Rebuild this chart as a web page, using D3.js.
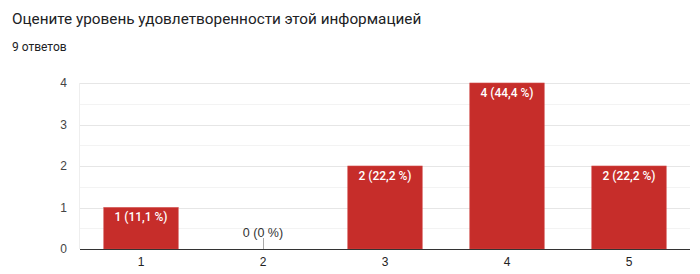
<!DOCTYPE html>
<html>
<head>
<meta charset="utf-8">
<script src="https://cdn.jsdelivr.net/npm/d3@7"></script>
<style>
  body { margin: 0; background: #fff; }
  svg { display: block; }
</style>
</head>
<body>
<svg id="chart" width="700" height="274"></svg>
<script>
var categories = ["1", "2", "3", "4", "5"];
var counts = [1, 0, 2, 4, 2];
var labels = ["1 (11,1 %)", "0 (0 %)", "2 (22,2 %)", "4 (44,4 %)", "2 (22,2 %)"];
var yTicks = [0, 1, 2, 3, 4];
var title = "Оцените уровень удовлетворенности этой информацией";
var subtitle = "9 ответов";

var width = 700,
    height = 274,
    margin = {top: 83, right: 10, bottom: 25, left: 80};

var svg = d3.select("#chart");

svg.append("text")
    .attr("x", 12)
    .attr("y", 24)
    .attr("font-family", "Roboto, 'Noto Sans', sans-serif")
    .attr("font-size", 15.3)
    .attr("fill", "#202124")
    .text(title);

svg.append("text")
    .attr("x", 12)
    .attr("y", 51)
    .attr("font-family", "Roboto, 'Noto Sans', sans-serif")
    .attr("font-size", 12)
    .attr("fill", "#202124")
    .text(subtitle);

var x = d3.scaleBand()
    .domain(categories)
    .range([margin.left, width - margin.right])
    .paddingInner(0.39)
    .paddingOuter(0.195);

var y = d3.scaleLinear()
    .domain([0, 4])
    .range([height - margin.bottom, margin.top]);

var font = "'Liberation Sans', Arial, sans-serif";

// minor gridlines
svg.append("g")
    .selectAll("line")
    .data(d3.range(0.5, 4, 1))
    .join("line")
    .attr("x1", margin.left)
    .attr("x2", width - margin.right)
    .attr("y1", d => Math.round(y(d)) + 0.5)
    .attr("y2", d => Math.round(y(d)) + 0.5)
    .attr("stroke", "#f3f3f3");

// major gridlines
svg.append("g")
    .selectAll("line")
    .data(yTicks.slice(1))
    .join("line")
    .attr("x1", margin.left)
    .attr("x2", width - margin.right)
    .attr("y1", d => Math.round(y(d)) + 0.5)
    .attr("y2", d => Math.round(y(d)) + 0.5)
    .attr("stroke", "#e6e6e6");

// left vertical line
svg.append("line")
    .attr("x1", margin.left - 0.5)
    .attr("x2", margin.left - 0.5)
    .attr("y1", y(4))
    .attr("y2", y(0))
    .attr("stroke", "#eeeeee");

// y axis
var yAxis = svg.append("g")
    .attr("transform", "translate(" + margin.left + ",0)")
    .call(d3.axisLeft(y).tickValues(yTicks).tickSize(0).tickPadding(13).tickFormat(d3.format("d")));
yAxis.select(".domain").remove();
yAxis.selectAll("text")
    .attr("font-family", font)
    .attr("font-size", 12)
    .attr("fill", "#444");

// bars
svg.append("g")
    .selectAll("rect")
    .data(counts)
    .join("rect")
    .attr("x", (d, i) => x(categories[i]))
    .attr("y", d => y(d))
    .attr("width", x.bandwidth())
    .attr("height", d => y(0) - y(d))
    .attr("fill", "#c62d2a")
    .attr("stroke", "#d04a47")
    .attr("stroke-width", 0.6);

// zero bar marker
svg.append("g")
    .selectAll("line")
    .data(counts.map((d, i) => ({v: d, c: categories[i]})).filter(d => d.v === 0))
    .join("line")
    .attr("x1", d => Math.round(x(d.c) + x.bandwidth() / 2) + 0.5)
    .attr("x2", d => Math.round(x(d.c) + x.bandwidth() / 2) + 0.5)
    .attr("y1", y(0) - 11)
    .attr("y2", y(0))
    .attr("stroke", "#aaaaaa");

// bar labels
svg.append("g")
    .selectAll("text")
    .data(counts)
    .join("text")
    .attr("x", (d, i) => x(categories[i]) + x.bandwidth() / 2)
    .attr("y", d => d > 0 ? y(d) + 13.5 : y(0) - 12.5)
    .attr("text-anchor", "middle")
    .attr("font-family", d => d > 0 ? "Roboto, sans-serif" : font)
    .attr("font-size", d => d > 0 ? 12 : 12.5)
    .attr("font-weight", d => d > 0 ? 500 : "normal")
    .attr("fill", d => d > 0 ? "#ffffff" : "#333")
    .text((d, i) => labels[i]);

// x axis
var xAxis = svg.append("g")
    .attr("transform", "translate(0," + y(0) + ")")
    .call(d3.axisBottom(x).tickSize(0).tickPadding(8));
xAxis.select(".domain")
    .attr("d", "M" + margin.left + ",0.5H" + (width - margin.right))
    .attr("stroke", "#333");
xAxis.selectAll("text")
    .attr("font-family", font)
    .attr("font-size", 12)
    .attr("fill", "#222");
</script>
</body>
</html>
